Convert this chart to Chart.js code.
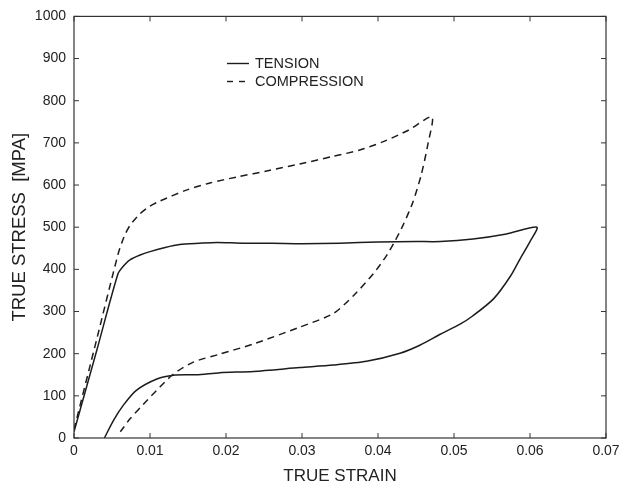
<!DOCTYPE html>
<html>
<head>
<meta charset="utf-8">
<script src="https://cdn.jsdelivr.net/npm/chart.js@4/dist/chart.umd.min.js"></script>
<style>
  html, body { margin: 0; padding: 0; background: #fff; }
  #wrap { width: 626px; height: 491px; position: relative; }
</style>
</head>
<body>
<div id="wrap"><canvas id="c" width="626" height="491"></canvas></div>
<script>
// ---- data ----
const tensionX = [0, 0.003, 0.0058, 0.0066, 0.0074, 0.0087, 0.01, 0.012, 0.0139, 0.0165, 0.0188, 0.0222, 0.026, 0.03, 0.035, 0.04, 0.045, 0.0482, 0.0525, 0.0569, 0.0609,
                  0.06, 0.0587, 0.0574, 0.0552, 0.0525, 0.0508, 0.0482, 0.0455, 0.0429, 0.0385, 0.0341, 0.0297, 0.0236, 0.0192, 0.0161, 0.0131, 0.0109, 0.0082, 0.0065, 0.0052, 0.004];
const tensionY = [15, 208, 390, 410, 423, 434, 442, 452, 459, 462, 464, 462, 462, 461, 462, 465, 466, 466, 472, 484, 500,
                  466, 425, 383, 330, 290, 270, 246, 220, 201, 182, 173, 167, 158, 155, 150, 149, 140, 113, 78, 42, 0];
const compressionX = [0, 0.003, 0.0058, 0.0066, 0.0074, 0.0087, 0.01, 0.0113, 0.0148, 0.0179, 0.0214, 0.0258, 0.0297, 0.0341, 0.0376, 0.0407, 0.044, 0.0471,
                      0.0466, 0.0457, 0.0446, 0.0433, 0.0422, 0.0411, 0.0394, 0.0368, 0.0341, 0.0297, 0.0236, 0.0192, 0.0157, 0.0131, 0.0113, 0.0096, 0.0074, 0.0061];
const compressionY = [20, 235, 436, 478, 505, 532, 550, 562, 588, 605, 619, 635, 650, 668, 683, 703, 730, 762,
                      700, 625, 560, 505, 466, 432, 390, 338, 295, 263, 223, 199, 180, 152, 121, 89, 46, 15];
const seriesNames = ['TENSION', 'COMPRESSION'];
const xTickValues = [0, 0.01, 0.02, 0.03, 0.04, 0.05, 0.06, 0.07];
const yTickValues = [0, 100, 200, 300, 400, 500, 600, 700, 800, 900, 1000];
const xTitle = 'TRUE STRAIN';
const yTitle = 'TRUE STRESS  [MPA]';

const INK = '#1c1c1c';
const FONT = "'Liberation Sans', Arial, Helvetica, sans-serif";

function pts(xs, ys) { return xs.map((x, i) => ({ x: x, y: ys[i] })); }

const framePlugin = {
  id: 'frame',
  afterDraw(chart) {
    const { ctx, chartArea: a, scales } = chart;
    ctx.save();
    ctx.strokeStyle = '#333';
    ctx.lineWidth = 1.2;
    ctx.strokeRect(a.left, a.top, a.right - a.left, a.bottom - a.top);
    const L = 5;
    ctx.beginPath();
    xTickValues.forEach(v => {
      const px = scales.x.getPixelForValue(v);
      ctx.moveTo(px, a.bottom); ctx.lineTo(px, a.bottom - L);
      ctx.moveTo(px, a.top); ctx.lineTo(px, a.top + L);
    });
    yTickValues.forEach(v => {
      const py = scales.y.getPixelForValue(v);
      ctx.moveTo(a.left, py); ctx.lineTo(a.left + L, py);
      ctx.moveTo(a.right, py); ctx.lineTo(a.right - L, py);
    });
    ctx.lineWidth = 1;
    ctx.stroke();

    // legend inside plot
    ctx.fillStyle = '#222';
    ctx.font = '14.5px ' + FONT;
    ctx.textBaseline = 'middle';
    ctx.textAlign = 'left';
    ctx.strokeStyle = INK;
    ctx.lineWidth = 1.4;
    ctx.setLineDash([]);
    ctx.beginPath(); ctx.moveTo(227, 63.5); ctx.lineTo(249, 63.5); ctx.stroke();
    ctx.fillText(seriesNames[0], 255, 63.5);
    ctx.setLineDash([6, 6]);
    ctx.beginPath(); ctx.moveTo(227, 81.5); ctx.lineTo(249, 81.5); ctx.stroke();
    ctx.setLineDash([]);
    ctx.fillText(seriesNames[1], 255, 81.5);
    ctx.restore();
  }
};

new Chart(document.getElementById('c'), {
  type: 'scatter',
  data: {
    datasets: [
      { label: seriesNames[0], data: pts(tensionX, tensionY), showLine: true, borderColor: INK, borderWidth: 1.5,
        pointRadius: 0, tension: 0.25, fill: false },
      { label: seriesNames[1], data: pts(compressionX, compressionY), showLine: true, borderColor: INK, borderWidth: 1.5,
        borderDash: [7, 5], pointRadius: 0, tension: 0.25, fill: false }
    ]
  },
  options: {
    responsive: false,
    animation: false,
    devicePixelRatio: 1,
    layout: { padding: { top: 13, right: 20, left: 0, bottom: 0 } },
    plugins: { legend: { display: false }, tooltip: { enabled: false } },
    scales: {
      x: {
        type: 'linear', min: 0, max: 0.07,
        afterBuildTicks: s => { s.ticks = xTickValues.map(v => ({ value: v })); },
        afterFit: s => { s.height = 53; },
        grid: { display: false, drawTicks: false },
        border: { display: false },
        ticks: { padding: 5, color: '#222', font: { family: FONT, size: 14 },
                 callback: v => String(parseFloat(v.toFixed(2))) },
        title: { display: true, text: xTitle, color: '#222', font: { family: FONT, size: 17 }, padding: { top: 4, bottom: 4 } }
      },
      y: {
        type: 'linear', min: 0, max: 1000,
        afterBuildTicks: s => { s.ticks = yTickValues.map(v => ({ value: v })); },
        afterFit: s => { s.width = 74; },
        grid: { display: false, drawTicks: false },
        border: { display: false },
        ticks: { padding: 8, color: '#222', font: { family: FONT, size: 14 },
                 callback: v => String(v) },
        title: { display: true, text: yTitle, color: '#222', font: { family: FONT, size: 18.5 }, padding: { top: 9, bottom: 4 } }
      }
    }
  },
  plugins: [framePlugin]
});
</script>
</body>
</html>
